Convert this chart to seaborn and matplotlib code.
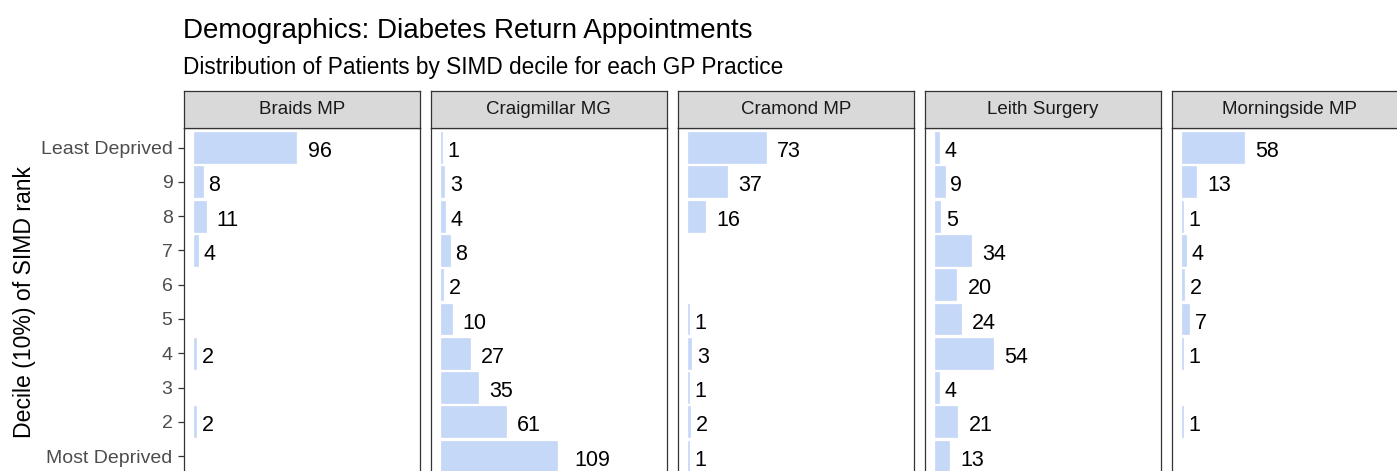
import numpy as np
import pandas as pd
import matplotlib
matplotlib.use("Agg")
import matplotlib.pyplot as plt
import seaborn as sns

deciles = ["Least Deprived", "9", "8", "7", "6", "5", "4", "3", "2", "Most Deprived"]
practices = ["Braids MP", "Craigmillar MG", "Cramond MP", "Leith Surgery", "Morningside MP"]
braids = [96, 8, 11, 4, np.nan, np.nan, 2, np.nan, 2, np.nan]
craigmillar = [1, 3, 4, 8, 2, 10, 27, 35, 61, 109]
cramond = [73, 37, 16, np.nan, np.nan, 1, 3, 1, 2, 1]
leith = [4, 9, 5, 34, 20, 24, 54, 4, 21, 13]
morningside = [58, 13, 1, 4, 2, 7, 1, np.nan, 1, np.nan]

bar_colour = "#C6D8F7"
W, H = 1397, 471


def build_df():
    rows = []
    for practice, values in zip(practices, [braids, craigmillar, cramond, leith, morningside]):
        for decile, n in zip(deciles, values):
            rows.append({"practice": practice, "decile": decile, "n": n})
    return pd.DataFrame(rows).dropna()


def px_box(left, top, width, height):
    return [left / W, 1 - (top + height) / H, width / W, height / H]


def plot_practice(fig, df, i, practice):
    left = 183.7 + i * 247
    panel_top = 128.3
    ax = fig.add_axes(px_box(left, panel_top, 236, 347))
    sub = df[df["practice"] == practice]
    sns.barplot(data=sub, x="n", y="decile", order=deciles, color=bar_colour,
                width=0.9, errorbar=None, saturation=1, edgecolor=bar_colour,
                linewidth=0.5, ax=ax)
    for _, r in sub.iterrows():
        label = str(int(r["n"]))
        ax.annotate(label, xy=(r["n"], deciles.index(r["decile"])),
                    xytext=(4.0 * len(label), -3.0), textcoords="offset points",
                    ha="left", va="center", fontsize=15.5, color="black",
                    family="Liberation Sans")
    ax.set_xlim(-9.65, 211.5)
    ax.set_ylim(9.56, -0.56)
    ax.set_xlabel("")
    ax.set_ylabel("")
    ax.set_facecolor("white")
    for s in ax.spines.values():
        s.set_visible(True)
        s.set_color("#333333")
        s.set_linewidth(0.9)
    ax.set_xticks([])
    if i == 0:
        ax.tick_params(axis="y", left=True, length=4.5, width=0.9, color="#333333", pad=3.5,
                       labelsize=14, labelcolor="#4D4D4D")
        for t in ax.get_yticklabels():
            t.set_family("Liberation Sans")
    else:
        ax.set_yticks([])

    strip = fig.add_axes(px_box(left, 90.7, 236, 37.6))
    strip.set_facecolor("#D9D9D9")
    strip.set_xticks([])
    strip.set_yticks([])
    for s in strip.spines.values():
        s.set_color("#333333")
        s.set_linewidth(0.9)
    strip.text(0.5, 0.5, practice, ha="center", va="center", fontsize=13.5,
               color="#1A1A1A", family="Liberation Sans", transform=strip.transAxes)


if __name__ == "__main__":
    sns.set_theme(style="white")
    plt.rcParams["font.family"] = ["Liberation Sans", "DejaVu Sans"]
    df = build_df()
    fig = plt.figure(figsize=(W / 100, H / 100), dpi=100)
    for i, practice in enumerate(practices):
        plot_practice(fig, df, i, practice)

    fig.text(183 / W, 1 - 30.5 / H, "Demographics: Diabetes Return Appointments",
             fontsize=20, color="black", ha="left", va="center")
    fig.text(183 / W, 1 - 67.5 / H, "Distribution of Patients by SIMD decile for each GP Practice",
             fontsize=16.3, color="black", ha="left", va="center")
    fig.text(25 / W, 1 - 302 / H, "Decile (10%) of SIMD rank", rotation=90,
             fontsize=16.6, color="black", ha="center", va="center")

    fig.savefig("out.png", dpi=100)
